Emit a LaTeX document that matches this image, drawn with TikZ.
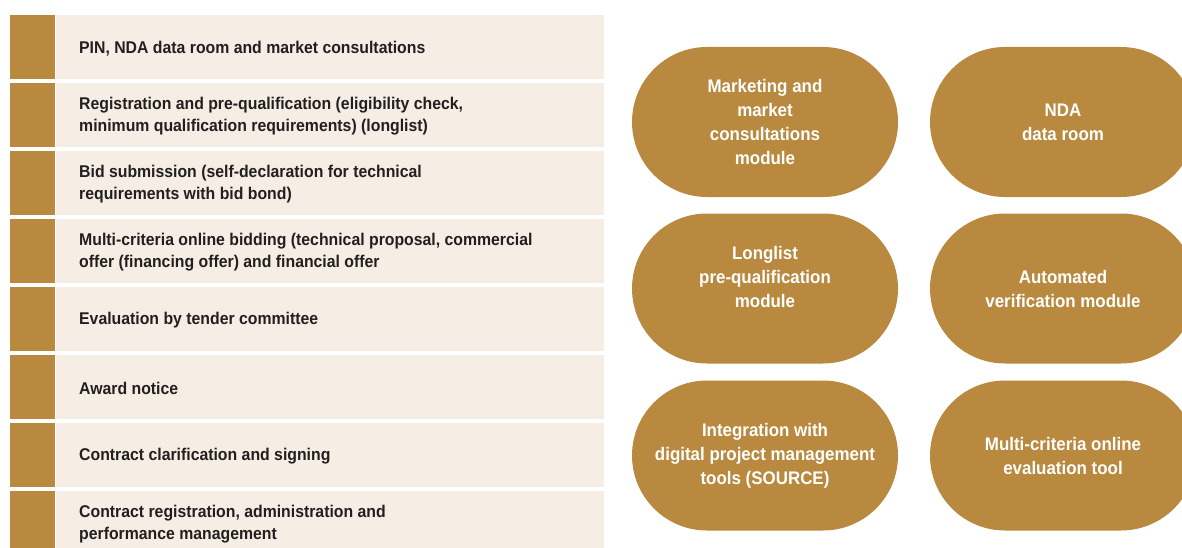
\documentclass[tikz,border=0pt]{standalone}
\usepackage{fontspec}
\setmainfont{Liberation Sans}[FakeStretch=0.93,UprightFont=* Bold]
\definecolor{gold}{HTML}{B8893E}
\definecolor{beige}{HTML}{F6EEE4}
\definecolor{ink}{HTML}{231F20}
\begin{document}
\begin{tikzpicture}[x=1pt,y=-1pt,
  tab/.style={fill=gold,draw=none,inner sep=0pt,minimum width=45pt,minimum height=64pt,anchor=north west},
  bar/.style={fill=beige,draw=none,inner sep=0pt,minimum width=548pt,minimum height=64pt,anchor=north west},
  rowtext/.style={text=ink,font=\fontsize{17}{22}\selectfont,align=left,anchor=west,inner sep=0pt},
  pill/.style={fill=gold,draw=none,inner sep=0pt,minimum width=266pt,minimum height=150pt,rounded corners=75pt},
  pilltext/.style={text=white,font=\fontsize{18.2}{24}\selectfont,align=center,inner sep=0pt}]
\useasboundingbox (0,0) rectangle (1182,548);
\clip (0,0) rectangle (1182,548);
\foreach \i/\t in {0/{PIN, NDA data room and market consultations},
  1/{Registration and pre-qualification (eligibility check,\\minimum qualification requirements) (longlist)},
  2/{Bid submission (self-declaration for technical\\requirements with bid bond)},
  3/{Multi-criteria online bidding (technical proposal, commercial\\offer (financing offer) and financial offer},
  4/{Evaluation by tender committee},
  5/{Award notice},
  6/{Contract clarification and signing},
  7/{Contract registration, administration and\\performance management}}{
  \node[tab] (tab\i) at (10,15+68*\i) {};
  \node[bar] (bar\i) at (56,15+68*\i) {};
  \node[rowtext] (txt\i) at (79,48.5+68*\i) {\t};
}
\node[pill] (p1) at (765,122) {};
\node[pilltext] (t1) at (p1.center) {Marketing and\\market\\consultations\\module};
\node[pill] (p2) at (1063,122) {};
\node[pilltext] (t2) at (p2.center) {NDA\\data room};
\node[pill] (p3) at (765,288.5) {};
\node[pilltext] (t3) at (765,277) {Longlist\\pre-qualification\\module};
\node[pill] (p4) at (1063,288.5) {};
\node[pilltext] (t4) at (p4.center) {Automated\\verification module};
\node[pill] (p5) at (765,455.5) {};
\node[pilltext] (t5) at (p5.center) {Integration with\\digital project management\\tools (SOURCE)};
\node[pill] (p6) at (1063,455.5) {};
\node[pilltext] (t6) at (p6.center) {Multi-criteria online\\evaluation tool};
\end{tikzpicture}
\end{document}
